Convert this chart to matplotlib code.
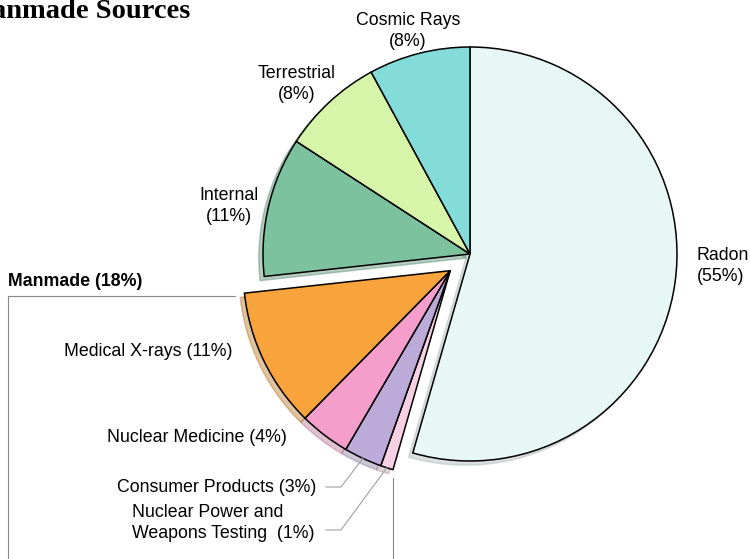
import numpy as np
import matplotlib
matplotlib.use('Agg')
import matplotlib.pyplot as plt

plt.rcParams['font.family'] = ['Liberation Sans', 'DejaVu Sans']

# ----- data -----
names    = ['Radon', 'Nuclear Power and\nWeapons Testing ', 'Consumer Products',
            'Nuclear Medicine', 'Medical X-rays', 'Internal', 'Terrestrial', 'Cosmic Rays']
percents = [55, 1, 3, 4, 11, 11, 8, 8]
manmade  = [False, True, True, True, True, False, False, False]
manmade_total = 18
colors   = ['#e6f7f6', '#f8d0e3', '#bcaad9', '#f59dcb', '#f9a33c',
            '#7cc29f', '#d6f5a8', '#84dcd9']

# ----- figure -----
W, H = 750, 559
fig = plt.figure(figsize=(W/100, H/100), dpi=100)
ax = fig.add_axes([0, 0, 1, 1])
fsize = 12.8

cx, cy, R = 470, H-254, 207
wedges, _ = ax.pie(percents, colors=colors, startangle=90, counterclock=False,
                   center=(cx, cy), radius=R,
                   wedgeprops=dict(edgecolor='black', linewidth=1.1),
                   shadow=dict(ox=-3, oy=-3, shade=0.25, alpha=0.45))
ax.set_xlim(0, W)
ax.set_ylim(0, H)
ax.set_aspect('equal')
ax.axis('off')

# pull the manmade group out as one piece
mm = [w for w, m in zip(wedges, manmade) if m]
t_mid = np.deg2rad((min(w.theta1 for w in mm) + max(w.theta2 for w in mm))/2)
dx, dy = 0.125*R*np.cos(t_mid), 0.125*R*np.sin(t_mid)
for w in mm:
    w.set_center((cx+dx, cy+dy))

def lab(i):
    return f"{names[i]} ({percents[i]}%)"

# natural sources
ax.text(408, H-31, f"{names[7]}\n({percents[7]}%)", ha='center', va='center', fontsize=fsize, linespacing=1.25)
ax.text(297, H-84, f"{names[6]}\n({percents[6]}%)", ha='center', va='center', fontsize=fsize, linespacing=1.25)
ax.text(229, H-206, f"{names[5]}\n({percents[5]}%)", ha='center', va='center', fontsize=fsize, linespacing=1.25)
ax.text(697, H-266, f"{names[0]}\n({percents[0]}%)", ha='left', va='center', fontsize=fsize, linespacing=1.25)

# manmade box
ax.text(8, H-282, f"Manmade ({manmade_total}%)", ha='left', va='center', fontsize=fsize, fontweight='bold')
bc = '#8a8a8a'
ax.plot([8, 235], [H-296, H-296], color=bc, lw=0.8)
ax.plot([8, 8], [H-296, 0], color=bc, lw=0.8)
ax.plot([393, 393], [H-478, 0], color=bc, lw=0.8)

ax.text(233, H-352, lab(4), ha='right', va='center', fontsize=fsize)
ax.text(287, H-437, lab(3), ha='right', va='center', fontsize=fsize)
ax.text(316, H-487, lab(2), ha='right', va='center', fontsize=fsize)
ax.text(132, H-523, lab(1), ha='left', va='center', fontsize=fsize, linespacing=1.25)

# leader lines to the thin wedges
lc = '#a0a0a0'
for i, ty in [(2, H-487), (1, H-530)]:
    w = wedges[i]
    a = np.deg2rad((w.theta1 + w.theta2)/2)
    px, py = w.center[0] + R*np.cos(a), w.center[1] + R*np.sin(a)
    ax.plot([326, 341, px], [ty, ty, py], color=lc, lw=0.8)

# title (cut off at the left edge, as in the source)
ax.text(190, H-18, 'Manmade Sources', ha='right', va='baseline', fontsize=20.5,
        fontweight='bold', family='Liberation Serif')

fig.savefig('out.png', dpi=100)
